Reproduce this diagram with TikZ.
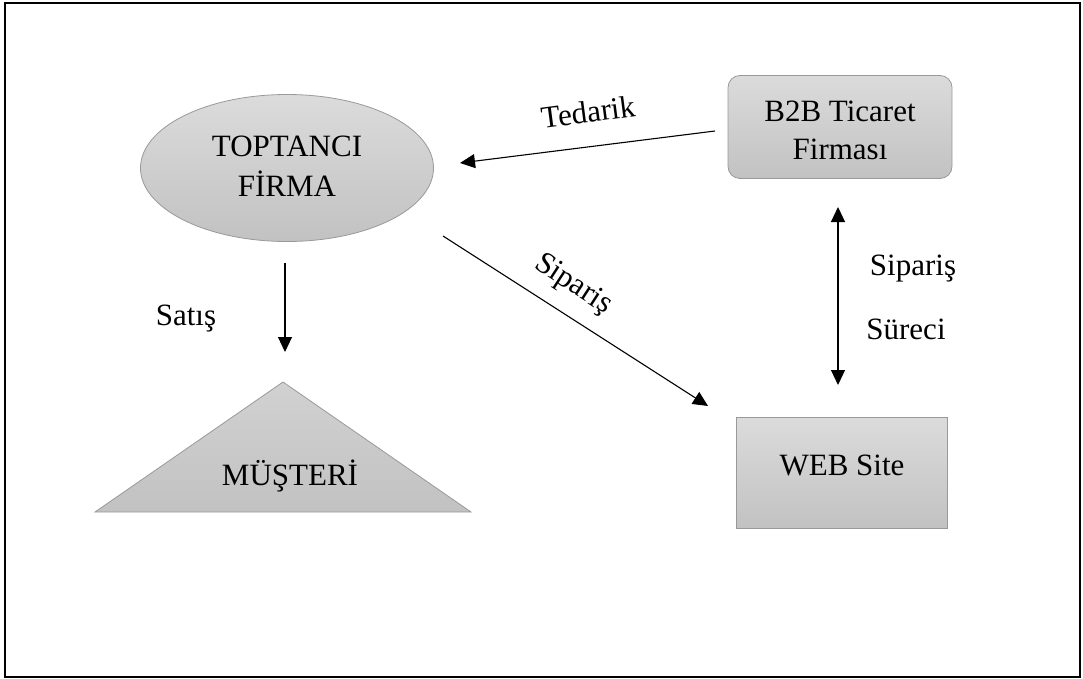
\documentclass[tikz,border=0pt]{standalone}
\usepackage{fontspec}
\setmainfont{Liberation Serif}
\usetikzlibrary{arrows.meta,shapes.geometric}
\tikzset{
  shapefill/.style={draw=black!40, line width=0.8pt, top color=black!14, bottom color=black!24},
  lbl/.style={font=\fontsize{31}{38}\selectfont, inner sep=0pt, align=center},
  conn/.style={line width=1.1pt, -{Triangle[length=15pt,width=14pt]}},
  dconn/.style={line width=1.1pt, {Triangle[length=15pt,width=14pt]}-{Triangle[length=15pt,width=14pt]}}
}
\begin{document}
\begin{tikzpicture}[x=1pt,y=-1pt]
\useasboundingbox (0,0) rectangle (1083,679);
\draw[line width=2pt] (5,3) rectangle (1080,677);
% ellipse
\node[ellipse, shapefill, minimum width=293pt, minimum height=147pt, inner sep=0pt] (top) at (287,168) {};
\node[lbl, font=\fontsize{31}{40}\selectfont] (toptxt) at (287,166) {TOPTANCI\\FİRMA};
% B2B
\node[shapefill, rounded corners=12pt, minimum width=224pt, minimum height=103pt] (b2b) at (840,127) {};
\node[lbl, font=\fontsize{31}{38}\selectfont] (b2btxt) at (840,130) {B2B Ticaret\\Firması};
% web
\node[shapefill, minimum width=211pt, minimum height=111pt] (web) at (842,473) {};
\node[lbl] (webtxt) at (842,465) {WEB Site};
% triangle
\coordinate (ta) at (283,382);
\coordinate (tl) at (95,512);
\coordinate (tr) at (471,512);
\draw[shapefill, top color=black!18, bottom color=black!24] (ta) -- (tr) -- (tl) -- cycle;
\node[lbl] (mus) at (290,476) {MÜŞTERİ};
% connectors
\coordinate (tedA) at (715,131);
\coordinate (tedB) at (460,163);
\draw[conn] (tedA) -- (tedB);
\node[lbl, rotate=7.5] (tedl) at (588,112) {Tedarik};
\coordinate (sipA) at (443,236);
\coordinate (sipB) at (708,406);
\draw[conn] (sipA) -- (sipB);
\node[lbl, rotate=-33] (sipl) at (573,285) {Sipariş};
\coordinate (satA) at (285,263);
\coordinate (satB) at (285,352);
\draw[conn] (satA) -- (satB);
\node[lbl] (satl) at (186,319) {Satış};
\coordinate (ssA) at (838,207);
\coordinate (ssB) at (838,385);
\draw[dconn] (ssA) -- (ssB);
\node[lbl] (ss1) at (913,269) {Sipariş};
\node[lbl] (ss2) at (906,329) {Süreci};
\end{tikzpicture}
\end{document}
